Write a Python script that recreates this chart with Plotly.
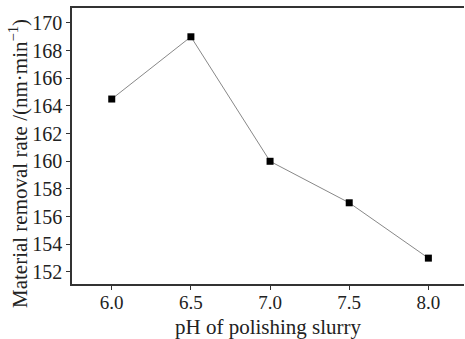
import plotly.graph_objects as go

ph = [6.0, 6.5, 7.0, 7.5, 8.0]
rate = [164.5, 169.0, 160.0, 157.0, 153.0]
x_ticks = [6.0, 6.5, 7.0, 7.5, 8.0]
x_tick_labels = ["6.0", "6.5", "7.0", "7.5", "8.0"]
y_ticks = list(range(152, 171, 2))

font = dict(family="Liberation Serif, Times New Roman, serif", color="#222", size=20)

fig = go.Figure(go.Scatter(
    x=ph, y=rate, mode="lines+markers",
    line=dict(color="#888", width=1),
    marker=dict(symbol="square", size=7, color="black"),
))

fig.update_layout(
    width=465, height=339,
    margin=dict(l=72, r=1, t=8, b=55),
    paper_bgcolor="white", plot_bgcolor="white",
    font=font, showlegend=False,
    xaxis=dict(
        range=[5.749, 8.225], tickvals=x_ticks, ticktext=x_tick_labels,
        showline=True, linecolor="#333", linewidth=1.5, mirror=True,
        ticks="outside", ticklen=4, tickcolor="#333", showgrid=False, zeroline=False,
        automargin=False, ticklabelstandoff=-4, tickfont=dict(size=19),
    ),
    yaxis=dict(
        range=[151.13, 171.08], tickvals=y_ticks,
        showline=True, linecolor="#333", linewidth=1.5,
        ticks="outside", ticklen=4, tickcolor="#333", showgrid=False, zeroline=False,
        automargin=False, tickfont=dict(size=20),
    ),
    annotations=[
        dict(text="pH of polishing slurry", xref="paper", yref="paper",
             x=0.5, y=-0.155, xanchor="center", yanchor="middle",
             showarrow=False, font=dict(size=21)),
        dict(text="Material removal rate /(nm·min<sup>−1</sup>)", xref="paper", yref="paper",
             x=-0.138, y=0.438, xanchor="center", yanchor="middle", textangle=-90,
             showarrow=False, font=dict(size=21)),
    ],
)

fig.write_html("out.html")
